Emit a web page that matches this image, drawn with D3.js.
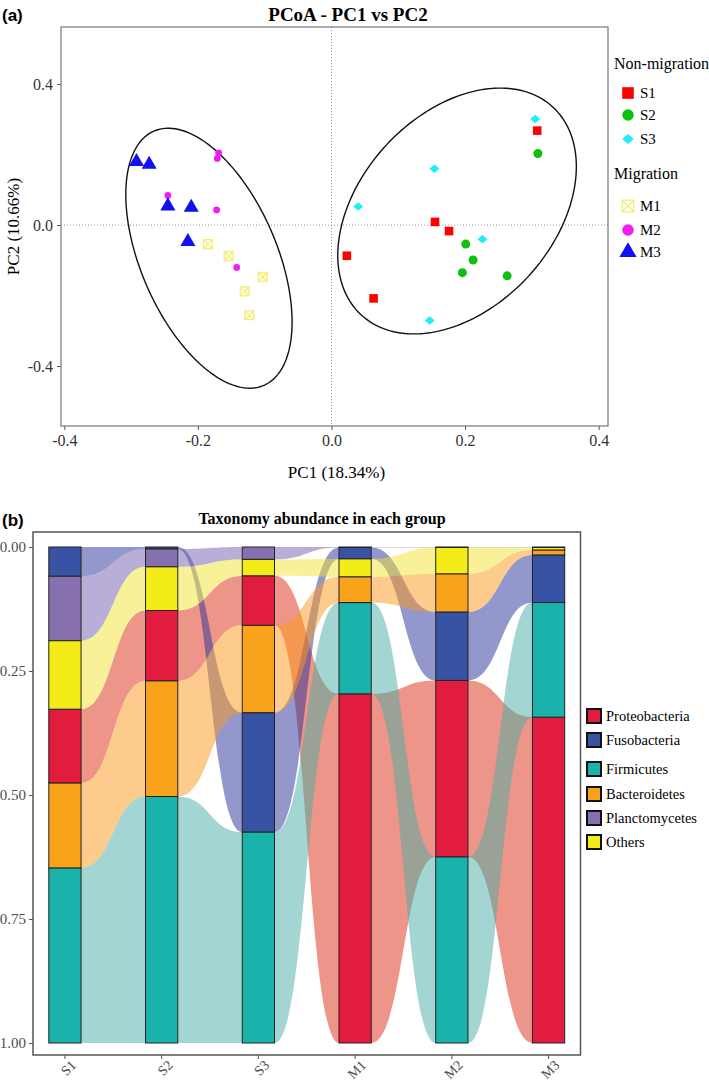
<!DOCTYPE html>
<html>
<head>
<meta charset="utf-8">
<script src="https://cdn.jsdelivr.net/npm/d3@7"></script>
<style>
  body { margin: 0; background: #fff; }
  svg text { font-family: "Liberation Serif", "Times New Roman", serif; }
</style>
</head>
<body>
<div id="chart"></div>
<script>
// PCoA coordinates
const s1X = [0.308, 0.155, 0.176, 0.023, 0.063];
const s1Y = [0.268, 0.009, -0.017, -0.087, -0.208];
const s2X = [0.309, 0.201, 0.212, 0.196, 0.263];
const s2Y = [0.203, -0.054, -0.099, -0.135, -0.144];
const s3X = [0.305, 0.154, 0.040, 0.226, 0.147];
const s3Y = [0.301, 0.160, 0.053, -0.040, -0.271];
const m1X = [-0.185, -0.154, -0.103, -0.130, -0.123];
const m1Y = [-0.054, -0.088, -0.147, -0.188, -0.256];
const m2X = [-0.169, -0.171, -0.245, -0.172, -0.142];
const m2Y = [0.205, 0.189, 0.084, 0.043, -0.120];
const m3X = [-0.292, -0.273, -0.245, -0.210, -0.215];
const m3Y = [0.180, 0.172, 0.054, 0.050, -0.047];

// confidence ellipses (centre + covariance, data units)
const ellipseCx = [0.188, -0.1835];
const ellipseCy = [0.040, -0.094];
const ellipseVarX = [0.0319, 0.0155];
const ellipseVarY = [0.1216, 0.1360];
const ellipseCov = [0.0225, -0.0225];

const pcXTicks = [-0.4, -0.2, 0.0, 0.2, 0.4];
const pcYTicks = [-0.4, 0.0, 0.4];

// relative abundance per group
const groups = ["S1", "S2", "S3", "M1", "M2", "M3"];
const taxa = ["Proteobacteria", "Fusobacteria", "Firmicutes", "Bacteroidetes", "Planctomycetes", "Others"];
const proteobacteria = [0.149, 0.142, 0.100, 0.704, 0.356, 0.657];
const fusobacteria = [0.059, 0.004, 0.241, 0.023, 0.138, 0.096];
const firmicutes = [0.353, 0.497, 0.425, 0.184, 0.375, 0.231];
const bacteroidetes = [0.171, 0.233, 0.176, 0.052, 0.077, 0.010];
const planctomycetes = [0.130, 0.036, 0.025, 0.001, 0.001, 0.001];
const others = [0.138, 0.088, 0.033, 0.036, 0.053, 0.005];
const abundTicks = [0, 0.25, 0.5, 0.75, 1];

const W = 709, H = 1081;
const svg = d3.select("#chart").append("svg")
  .attr("width", W)
  .attr("height", H);

// ---------- panel (a) ----------
const box = { left: 61, right: 608, top: 27, bottom: 426 };
const pcX = d3.scaleLinear().domain([-0.405, 0.414]).range([box.left, box.right]);
const pcY = d3.scaleLinear().domain([-0.570, 0.562]).range([box.bottom, box.top]);

svg.append("text").attr("x", 2).attr("y", 21)
  .style("font-family", "Liberation Sans, Arial, sans-serif")
  .style("font-weight", "bold").style("font-size", "17px").text("(a)");
svg.append("text").attr("x", 348).attr("y", 21).attr("text-anchor", "middle")
  .style("font-weight", "bold").style("font-size", "19px").text("PCoA - PC1 vs PC2");

svg.append("line")
  .attr("x1", pcX(0)).attr("x2", pcX(0)).attr("y1", box.top).attr("y2", box.bottom)
  .attr("stroke", "#999").attr("stroke-dasharray", "1,2");
svg.append("line")
  .attr("x1", box.left).attr("x2", box.right).attr("y1", pcY(0)).attr("y2", pcY(0))
  .attr("stroke", "#999").attr("stroke-dasharray", "1,2");

svg.append("g")
  .attr("transform", "translate(0," + box.bottom + ")")
  .call(d3.axisBottom(pcX).tickValues(pcXTicks).tickSize(4).tickPadding(5).tickFormat(d => d.toFixed(1)))
  .call(g => g.select(".domain").remove())
  .call(g => g.selectAll("text").style("font-size", "16px").attr("fill", "#333"))
  .call(g => g.selectAll("line").attr("stroke", "#555"));

svg.append("g")
  .attr("transform", "translate(" + box.left + ",0)")
  .call(d3.axisLeft(pcY).tickValues(pcYTicks).tickSize(4).tickPadding(4).tickFormat(d => d.toFixed(1)))
  .call(g => g.select(".domain").remove())
  .call(g => g.selectAll("text").style("font-size", "16px").attr("fill", "#333"))
  .call(g => g.selectAll("line").attr("stroke", "#555"));

svg.append("rect")
  .attr("x", box.left).attr("y", box.top)
  .attr("width", box.right - box.left).attr("height", box.bottom - box.top)
  .attr("fill", "none").attr("stroke", "#777").attr("stroke-width", 1.2);

svg.append("text").attr("x", (box.left + box.right) / 2 + 2).attr("y", 478).attr("text-anchor", "middle")
  .style("font-size", "17px").text("PC1 (18.34%)");
svg.append("text").attr("transform", "translate(19," + ((box.top + box.bottom) / 2) + ") rotate(-90)")
  .attr("text-anchor", "middle").style("font-size", "17px").text("PC2 (10.66%)");

// ellipses
const angles = d3.range(0, 2 * Math.PI + 0.001, Math.PI / 90);
ellipseCx.forEach((cx, i) => {
  const a = Math.sqrt(ellipseVarX[i]);
  const b = ellipseCov[i] / a;
  const c = Math.sqrt(ellipseVarY[i] - b * b);
  const pts = angles.map(t => [pcX(cx + a * Math.cos(t)), pcY(ellipseCy[i] + b * Math.cos(t) + c * Math.sin(t))]);
  svg.append("path")
    .attr("d", d3.line()(pts))
    .attr("fill", "none").attr("stroke", "#111").attr("stroke-width", 1.4);
});

function shapePath(shape, s) {
  if (shape === "square") return "M" + -s + "," + -s + "h" + 2 * s + "v" + 2 * s + "h" + -2 * s + "Z";
  if (shape === "circle") return d3.symbol(d3.symbolCircle, Math.PI * s * s)();
  if (shape === "diamond") return "M0," + (-s * 0.85) + "L" + s + ",0L0," + (s * 0.85) + "L" + -s + ",0Z";
  if (shape === "triangle") return d3.symbol(d3.symbolTriangle, s * s * 1.75)();
  if (shape === "boxcross") return "M" + -s + "," + -s + "h" + 2 * s + "v" + 2 * s + "h" + -2 * s + "Z" +
    "M" + -s + "," + -s + "L" + s + "," + s + "M" + s + "," + -s + "L" + -s + "," + s;
}

const pcoaSeries = [
  { name: "S1", xs: s1X, ys: s1Y, shape: "square", color: "#FF0000", size: 4.3 },
  { name: "S2", xs: s2X, ys: s2Y, shape: "circle", color: "#0FC00F", size: 4.5 },
  { name: "S3", xs: s3X, ys: s3Y, shape: "diamond", color: "#1EEEF8", size: 5 },
  { name: "M1", xs: m1X, ys: m1Y, shape: "boxcross", color: "#F4EE72", size: 4.4 },
  { name: "M2", xs: m2X, ys: m2Y, shape: "circle", color: "#F21DF0", size: 3.4 },
  { name: "M3", xs: m3X, ys: m3Y, shape: "triangle", color: "#1010F0", size: 7.5 }
];

pcoaSeries.forEach(s => {
  const stroked = s.shape === "boxcross";
  svg.append("g").selectAll("path")
    .data(s.xs.map((x, i) => [x, s.ys[i]]))
    .enter()
    .append("path")
    .attr("transform", d => "translate(" + pcX(d[0]) + "," + pcY(d[1]) + ")")
    .attr("d", shapePath(s.shape, s.size))
    .attr("fill", stroked ? "none" : s.color)
    .attr("stroke", stroked ? s.color : "none")
    .attr("stroke-width", 1.3);
});

// legend (a)
const legA = [
  { title: "Non-migration", y: 64 },
  { item: 0, y: 93 }, { item: 1, y: 115 }, { item: 2, y: 139 },
  { title: "Migration", y: 174 },
  { item: 3, y: 206 }, { item: 4, y: 230 }, { item: 5, y: 252 }
];
legA.forEach(e => {
  if (e.title) {
    svg.append("text").attr("x", 614).attr("y", e.y + 5).style("font-size", "16px").text(e.title);
  } else {
    const s = pcoaSeries[e.item];
    const stroked = s.shape === "boxcross";
    svg.append("path")
      .attr("transform", "translate(628," + e.y + ")")
      .attr("d", shapePath(s.shape, s.shape === "triangle" ? 8.5 : 5.8))
      .attr("fill", stroked ? "none" : s.color)
      .attr("stroke", stroked ? s.color : "none").attr("stroke-width", 1.3);
    svg.append("text").attr("x", 640).attr("y", e.y + 5).style("font-size", "15px").text(s.name);
  }
});

// ---------- panel (b) ----------
const boxB = { left: 33, right: 580.5, top: 532, bottom: 1055 };
const gx = d3.scalePoint().domain(groups).range([boxB.left, boxB.right]).padding(0.33);
const gy = d3.scaleLinear().domain([0, 1]).range([547, 1043]);
const barW = gx.step() / 3;

const taxaColor = d3.scaleOrdinal().domain(taxa)
  .range(["#E11C3F", "#3953A4", "#1AB3AC", "#F9A31C", "#8670B0", "#F3EC19"]);
const flowColor = d3.scaleOrdinal().domain(taxa)
  .range(["#D92B12", "#273099", "#47ADA5", "#FB9919", "#735DAF", "#F1E331"]);

const abund = {
  Proteobacteria: proteobacteria, Fusobacteria: fusobacteria, Firmicutes: firmicutes,
  Bacteroidetes: bacteroidetes, Planctomycetes: planctomycetes, Others: others
};

// stack each group: smallest taxon on top
const seg = {};
taxa.forEach(t => seg[t] = []);
groups.forEach((g, gi) => {
  const order = taxa.slice().sort((a, b) => abund[a][gi] - abund[b][gi]);
  let acc = 0;
  order.forEach(t => {
    seg[t][gi] = { y0: acc, y1: acc + abund[t][gi] };
    acc += abund[t][gi];
  });
});

svg.append("text").attr("x", 2).attr("y", 526)
  .style("font-family", "Liberation Sans, Arial, sans-serif")
  .style("font-weight", "bold").style("font-size", "17px").text("(b)");
svg.append("text").attr("x", 322).attr("y", 524).attr("text-anchor", "middle")
  .style("font-weight", "bold").style("font-size", "16px").text("Taxonomy abundance in each group");

const flows = svg.append("g");
taxa.forEach(t => {
  for (let i = 0; i < groups.length - 1; i++) {
    const x0 = gx(groups[i]) + barW / 2;
    const x1 = gx(groups[i + 1]) - barW / 2;
    const xm = (x0 + x1) / 2;
    const a = seg[t][i], b = seg[t][i + 1];
    const d = "M" + x0 + "," + gy(a.y0) +
      "C" + xm + "," + gy(a.y0) + " " + xm + "," + gy(b.y0) + " " + x1 + "," + gy(b.y0) +
      "L" + x1 + "," + gy(b.y1) +
      "C" + xm + "," + gy(b.y1) + " " + xm + "," + gy(a.y1) + " " + x0 + "," + gy(a.y1) + "Z";
    flows.append("path").attr("d", d)
      .attr("fill", flowColor(t)).attr("fill-opacity", 0.5);
  }
});

groups.forEach((g, gi) => {
  svg.append("g").selectAll("rect")
    .data(taxa)
    .enter()
    .append("rect")
    .attr("x", gx(g) - barW / 2)
    .attr("y", t => gy(seg[t][gi].y0))
    .attr("width", barW)
    .attr("height", t => gy(seg[t][gi].y1) - gy(seg[t][gi].y0))
    .attr("fill", t => taxaColor(t))
    .attr("stroke", "#222").attr("stroke-width", 1);
});

svg.append("rect")
  .attr("x", boxB.left).attr("y", boxB.top)
  .attr("width", boxB.right - boxB.left).attr("height", boxB.bottom - boxB.top)
  .attr("fill", "none").attr("stroke", "#555").attr("stroke-width", 1.5);

svg.append("g")
  .attr("transform", "translate(" + boxB.left + ",0)")
  .call(d3.axisLeft(gy).tickValues(abundTicks).tickSize(4).tickPadding(3).tickFormat(d3.format(".2f")))
  .call(g => g.select(".domain").remove())
  .call(g => g.selectAll("text").style("font-size", "15px").attr("fill", "#4d4d4d"))
  .call(g => g.selectAll("line").attr("stroke", "#555"));

const xAxisB = svg.append("g").attr("transform", "translate(0," + boxB.bottom + ")");
xAxisB.selectAll("line").data(groups).enter().append("line")
  .attr("x1", d => gx(d)).attr("x2", d => gx(d)).attr("y1", 0).attr("y2", 4)
  .attr("stroke", "#555");
xAxisB.selectAll("text").data(groups).enter().append("text")
  .attr("transform", d => "translate(" + (gx(d) + 6) + ",5) rotate(-45)")
  .attr("text-anchor", "end").attr("dy", "0.6em")
  .style("font-size", "14px").attr("fill", "#4d4d4d").text(d => d);

// legend (b)
const legBY = [716, 740, 769, 794, 818, 842];
taxa.forEach((t, i) => {
  svg.append("rect").attr("x", 587).attr("y", legBY[i] - 7).attr("width", 14).attr("height", 14)
    .attr("fill", taxaColor(t)).attr("stroke", "#111").attr("stroke-width", 2);
  svg.append("text").attr("x", 606).attr("y", legBY[i] + 5).style("font-size", "14.5px").text(t);
});
</script>
</body>
</html>
